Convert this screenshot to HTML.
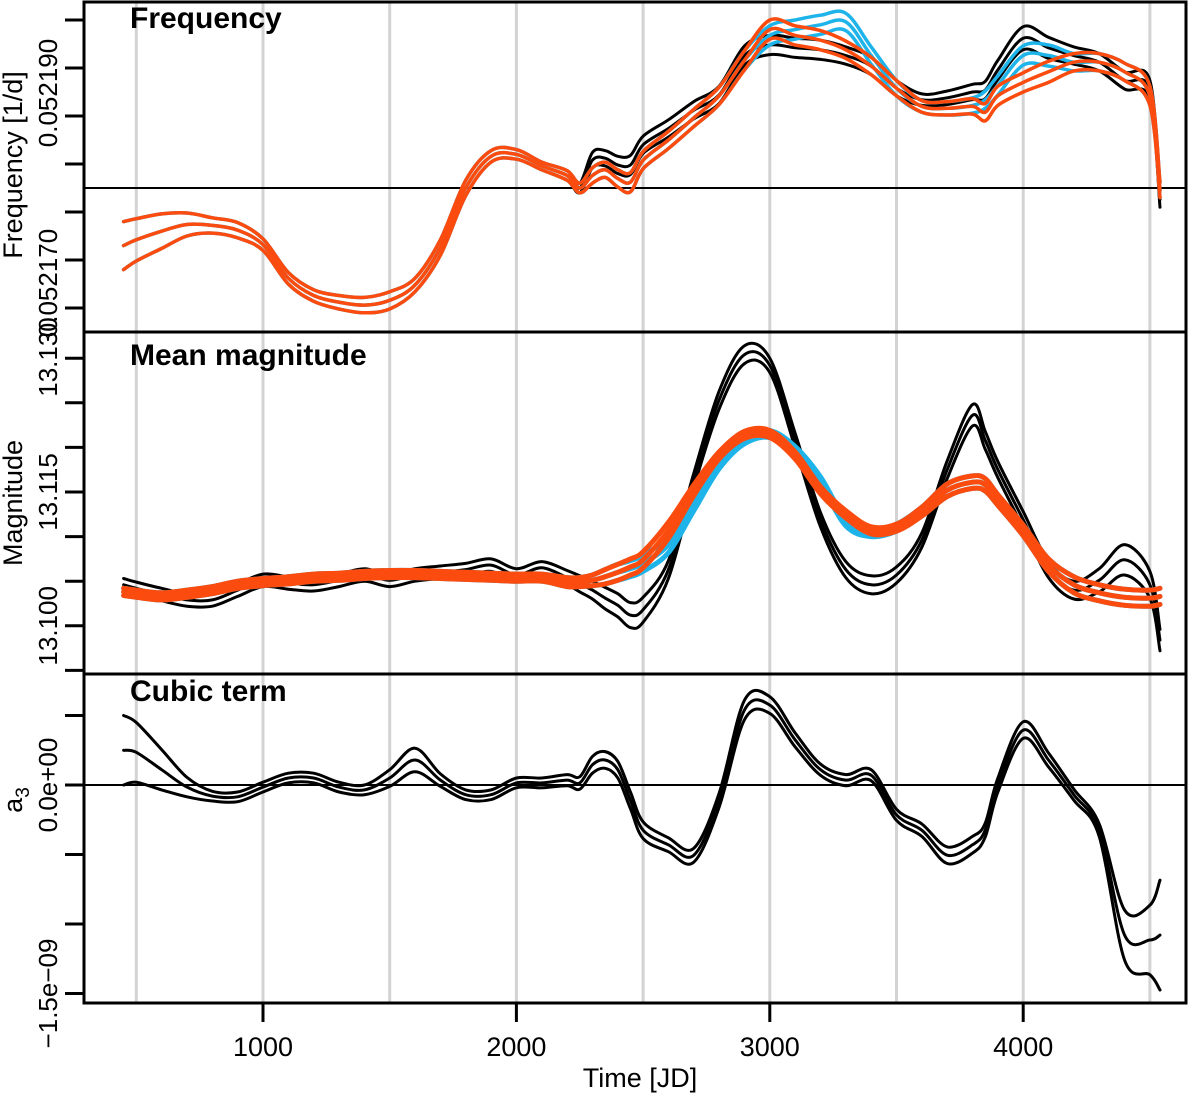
<!DOCTYPE html>
<html><head><meta charset="utf-8"><style>
html,body{margin:0;padding:0;background:#fff;}
svg{display:block;font-family:"Liberation Sans",Arial,sans-serif;}
</style></head><body>
<svg id="chart" width="1200" height="1094" viewBox="0 0 1200 1094" xmlns="http://www.w3.org/2000/svg"></svg>
<script>
// ---------- data ----------
const times = [450,500,600,700,800,900,1000,1100,1200,1300,1400,1500,1600,1700,1800,1900,2000,2100,2200,2250,2300,2350,2400,2450,2500,2600,2700,2800,2900,3000,3100,3200,3300,3400,3500,3600,3700,3800,3850,3900,4000,4100,4200,4300,4400,4500,4540];
const xTicks = [1000,2000,3000,4000];
const gridTimes = [500,1000,1500,2000,2500,3000,3500,4000,4500];

// Frequency offsets from 0.05218, in 1e-7 1/d
const freqOrange = [-85,-79,-70,-63,-64,-69,-84,-119,-137,-144,-147,-142,-126,-87,-25,8,10,-2,-12,-25,-12,-6,-15,-19,4,25,48,71,108,140,134,129,119,102,79,60,58,60,54,71,85,96,106,106,96,71,-27];
const freqOrangeSpread = [25,22,18,12,8,8,6,6,6,7,8,9,7,8,8,6,5,4,5,5,8,8,9,10,9,9,9,9,10,10,10,10,9,9,8,6,7,8,9,10,10,11,9,9,9,10,8];
const freqBlack = [-85,-79,-70,-63,-64,-69,-84,-119,-137,-144,-147,-142,-126,-87,-25,8,10,-2,-12,-25,4,6,-1,-1,20,37,56,72,113,124,121,119,113,102,79,67,69,75,77,98,131,121,113,106,87,77,-37];
const freqBlackSpread = [25,22,18,12,8,8,6,6,6,7,8,9,7,8,8,6,5,4,5,5,8,8,9,10,9,9,9,9,10,10,10,10,9,9,8,6,7,8,9,10,12,11,9,9,9,10,8];
const freqBlue = [-85,-79,-70,-63,-64,-69,-84,-119,-137,-144,-147,-142,-126,-87,-25,8,10,-2,-12,-25,-12,-6,-15,-19,4,25,48,71,108,134,140,145,148,113,79,60,58,61,67,82,113,113,106,106,96,71,-27];
const freqTickVals = [-150,-100,-50,0,50,100,150];

// Mean magnitude offsets from 13.115, in mmag
const magOrange = [-11.2,-11.4,-11.7,-11.4,-11.0,-10.4,-10.1,-9.9,-9.6,-9.5,-9.3,-9.2,-9.2,-9.3,-9.4,-9.5,-9.6,-9.6,-10.1,-10.1,-9.9,-9.5,-9.0,-8.4,-7.6,-4.3,0.2,4.1,6.4,6.5,4.1,0.2,-2.5,-4.3,-4.0,-2.2,0.2,1.1,0.8,-0.9,-4.3,-8.2,-10.4,-11.3,-11.8,-11.9,-11.7];
const magOrangeSpread = [0.4,0.4,0.4,0.4,0.4,0.4,0.4,0.4,0.4,0.4,0.4,0.4,0.4,0.4,0.4,0.4,0.4,0.4,0.5,0.5,0.6,0.8,0.9,0.9,0.9,0.9,0.6,0.4,0.4,0.4,0.4,0.4,0.4,0.4,0.4,0.5,0.7,0.7,0.7,0.6,0.6,0.7,0.9,0.9,0.9,0.9,0.9];
const magBlue = [-11.2,-11.4,-11.7,-11.4,-11.0,-10.4,-10.1,-9.9,-9.6,-9.5,-9.3,-9.2,-9.2,-9.3,-9.4,-9.5,-9.6,-9.6,-10.1,-10.1,-9.9,-9.5,-9.0,-8.6,-8.0,-5.9,-1.5,3.0,5.8,6.5,4.7,1.3,-3.4,-4.6,-4.0,-2.2,0.2,1.1,0.8,-0.9,-4.3,-8.2,-10.4,-11.3,-11.8,-11.9,-11.7];
const magBlack = [-10.4,-10.8,-11.5,-12.1,-12.1,-11.0,-9.9,-10.2,-10.4,-9.9,-9.3,-9.9,-9.3,-9.0,-8.7,-8.2,-9.3,-8.5,-9.6,-10.3,-11.0,-11.9,-12.7,-13.8,-13.2,-8.7,1.3,10.3,15.4,14.2,5.8,-3.1,-8.7,-10.4,-9.3,-5.4,2.5,8.6,5.8,2.5,-3.1,-8.7,-11.0,-9.9,-7.6,-10.4,-16.6];
const magBlackSpread = [0.7,0.7,0.7,0.7,0.7,0.7,0.7,0.7,0.7,0.7,0.7,0.7,0.7,0.7,0.7,0.7,0.7,0.7,0.8,0.9,1.0,1.2,1.3,1.4,1.4,1.0,0.8,1.0,1.0,0.8,0.8,0.8,0.9,1.0,0.9,0.8,1.0,1.2,1.0,0.9,0.9,0.9,1.0,1.3,1.7,1.5,1.2];
const magTickVals = [15,10,5,0,-5,-10,-15,-20];

// Cubic term a3, in units of 1e-10
const a3Black = [2.5,2.35,1.1,-0.15,-0.8,-0.85,-0.15,0.5,0.5,-0.15,-0.35,0.5,1.8,0.35,-0.7,-0.7,0.15,0.15,0.35,0.15,1.45,1.8,1.1,-1.1,-3.25,-4.3,-5.05,-1.1,5.4,5.75,3.25,1.1,0.35,0.7,-2.15,-3.25,-5.05,-4.3,-3.25,0,3.95,1.8,-0.7,-3.25,-10.8,-11.15,-10.8];
const a3Spread = [2.5,2.15,1.45,0.7,0.35,0.35,0.35,0.35,0.35,0.35,0.35,0.6,0.85,0.45,0.35,0.35,0.35,0.35,0.4,0.45,0.6,0.6,0.6,0.6,0.6,0.5,0.5,0.5,0.7,0.6,0.5,0.4,0.4,0.4,0.4,0.45,0.6,0.6,0.5,0.5,0.6,0.5,0.4,0.45,1.8,2.5,3.95];
const a3TickVals = [5,0,-5,-10,-15];

// ---------- layout ----------
const NS = "http://www.w3.org/2000/svg";
const svg = document.getElementById('chart');
const L = 84, R = 1186;
function xs(t){ return 263 + (t - 1000) * 0.2534; }
function yFreq(v){ return 164 - v * 0.96; }
function yMag(v){ return 492 - v * 8.92; }
function yA3(v){ return 785 - v * 13.9; }
const panels = [{top:2,bottom:332},{top:332,bottom:674},{top:674,bottom:1003}];

function mk(tag, attrs, parent){
  const e = document.createElementNS(NS, tag);
  for (const k in attrs) e.setAttribute(k, attrs[k]);
  (parent || svg).appendChild(e);
  return e;
}
function smoothPath(pts){
  let d = 'M' + pts[0][0].toFixed(1) + ',' + pts[0][1].toFixed(1);
  for (let i = 0; i < pts.length - 1; i++){
    const p0 = pts[Math.max(0, i-1)], p1 = pts[i], p2 = pts[i+1], p3 = pts[Math.min(pts.length-1, i+2)];
    const c1x = p1[0] + (p2[0]-p0[0])/6, c1y = p1[1] + (p2[1]-p0[1])/6;
    const c2x = p2[0] - (p3[0]-p1[0])/6, c2y = p2[1] - (p3[1]-p1[1])/6;
    d += 'C' + c1x.toFixed(1) + ',' + c1y.toFixed(1) + ' ' + c2x.toFixed(1) + ',' + c2y.toFixed(1) + ' ' + p2[0].toFixed(1) + ',' + p2[1].toFixed(1);
  }
  return d;
}

// grid lines
gridTimes.forEach(t => {
  const g = mk('line', {x1:xs(t), x2:xs(t), y1:2, y2:1003, stroke:'#d3d3d3', 'stroke-width':3});
  
  
});

// reference lines
const ref1 = mk('line', {x1:L, x2:R, y1:yFreq(-25), y2:yFreq(-25), stroke:'#000', 'stroke-width':2});


const ref2 = mk('line', {x1:L, x2:R, y1:yA3(0), y2:yA3(0), stroke:'#000', 'stroke-width':2});



function drawSeries(vals, spread, yf, color, width, name){
  [-1, 0, 1].forEach(s => {
    const pts = times.map((t, i) => [xs(t), yf(vals[i] + s * spread[i])]);
    const p = mk('path', {d:smoothPath(pts), fill:'none', stroke:color, 'stroke-width':width, 'stroke-linejoin':'round', 'stroke-linecap':'round'});
    
    
  });
}
const BLK = '#000', BLU = '#1eb4ea', ORG = '#fb4b0e';
drawSeries(freqBlack, freqBlackSpread, yFreq, BLK, 3, 'frequency-black');
drawSeries(freqBlue, freqOrangeSpread, yFreq, BLU, 3.5, 'frequency-blue');
drawSeries(freqOrange, freqOrangeSpread, yFreq, ORG, 3.5, 'frequency-orange');
drawSeries(magBlack, magBlackSpread, yMag, BLK, 3, 'magnitude-black');
drawSeries(magBlue, magOrangeSpread, yMag, BLU, 5, 'magnitude-blue');
drawSeries(magOrange, magOrangeSpread, yMag, ORG, 5, 'magnitude-orange');
drawSeries(a3Black, a3Spread, yA3, BLK, 3, 'cubic-black');

// frames
panels.forEach((p, i) => {
  const r = mk('rect', {x:L, y:p.top, width:R-L, height:p.bottom-p.top, fill:'none', stroke:'#000', 'stroke-width':3});
  
  
});

// y ticks
function yTicks(vals, yf, name){
  vals.forEach(v => {
    const t = mk('line', {x1:65, x2:L, y1:yf(v), y2:yf(v), stroke:'#000', 'stroke-width':3});
    
    
  });
}
yTicks(freqTickVals, yFreq, 'frequency-y');
yTicks(magTickVals, yMag, 'magnitude-y');
yTicks(a3TickVals, yA3, 'cubic-y');

// x ticks & labels
xTicks.forEach(t => {
  const tk = mk('line', {x1:xs(t), x2:xs(t), y1:1003, y2:1022, stroke:'#000', 'stroke-width':3});
  
  
  const lb = mk('text', {x:xs(t), y:1056, 'font-size':27, 'text-anchor':'middle'});
  lb.textContent = t;
  
  
});

function rotText(txt, x, y, size, name){
  const e = mk('text', {x:x, y:y, 'font-size':size, 'text-anchor':'middle', transform:'rotate(-90 '+x+' '+y+')'});
  e.textContent = txt;
  
  
  return e;
}
rotText('0.052190', 57, 93, 26, 'frequency-tick-label-top');
rotText('0.052170', 57, 283, 26, 'frequency-tick-label-bottom');
rotText('13.130', 57, 357, 26, 'magnitude-tick-label-13130');
rotText('13.115', 57, yMag(0), 26, 'magnitude-tick-label-13115');
rotText('13.100', 57, yMag(-15), 26, 'magnitude-tick-label-13100');
rotText('0.0e+00', 57, yA3(0), 26, 'cubic-tick-label-zero');
rotText('\u22121.5e\u221209', 57, yA3(-15), 26, 'cubic-tick-label-min');
rotText('Frequency [1/d]', 22, 165, 27, 'frequency-y-axis-title');
rotText('Magnitude', 22, 503, 27, 'magnitude-y-axis-title');
const a3t = rotText('a', 22, 800, 27, 'cubic-y-axis-title');
const sub = mk('tspan', {'font-size':19, dy:7}, a3t); sub.textContent = '3';

function title(txt, y, name){
  const e = mk('text', {x:130, y:y, 'font-size':30, 'font-weight':'bold'});
  e.textContent = txt;
  
  
}
title('Frequency', 28, 'frequency-panel-title');
title('Mean magnitude', 365, 'magnitude-panel-title');
title('Cubic term', 701, 'cubic-panel-title');

const xt = mk('text', {x:640, y:1087, 'font-size':27, 'text-anchor':'middle'});
xt.textContent = 'Time [JD]';


</script>
</body></html>
